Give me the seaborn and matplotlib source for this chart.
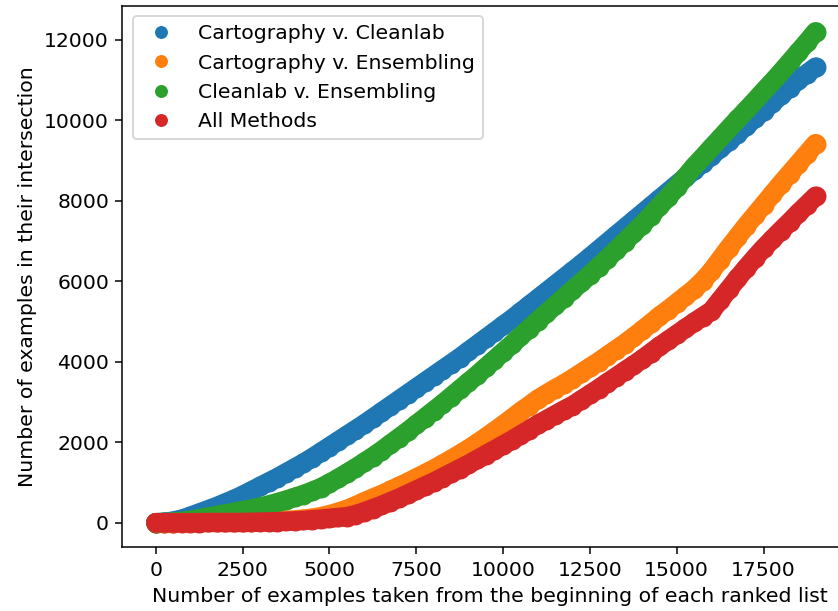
import numpy as np
import pandas as pd
import matplotlib
matplotlib.use('Agg')
import matplotlib.pyplot as plt
from matplotlib.lines import Line2D
import seaborn as sns

plt.rcParams['font.size'] = 10.7

# values, one point every 250 examples
x_taken = list(range(0, 19001, 250))

carto_cleanlab = [
    0, 10, 40, 90, 160, 240, 320, 400, 490, 580,
    680, 790, 900, 1010, 1120, 1240, 1360, 1480, 1610, 1750,
    1890, 2030, 2170, 2310, 2450, 2600, 2750, 2900, 3050, 3200,
    3350, 3500, 3650, 3800, 3950, 4100, 4260, 4420, 4580, 4740,
    4900, 5060, 5230, 5400, 5570, 5740, 5910, 6080, 6250, 6420,
    6600, 6780, 6960, 7140, 7320, 7500, 7680, 7860, 8040, 8220,
    8400, 8580, 8760, 8940, 9120, 9300, 9480, 9670, 9860, 10050,
    10240, 10430, 10620, 10810, 11000, 11160, 11320]

carto_ensembling = [
    0, 0, 0, 5, 5, 10, 10, 10, 15, 15,
    20, 25, 30, 35, 45, 55, 70, 90, 110, 150,
    200, 260, 330, 420, 520, 610, 700, 800, 900, 1000,
    1110, 1220, 1330, 1450, 1570, 1700, 1830, 1970, 2120, 2270,
    2430, 2590, 2760, 2910, 3070, 3200, 3330, 3450, 3580, 3720,
    3860, 4000, 4150, 4300, 4450, 4610, 4780, 4950, 5130, 5290,
    5460, 5630, 5800, 6010, 6250, 6540, 6830, 7100, 7380, 7640,
    7900, 8160, 8420, 8670, 8920, 9170, 9420]

cleanlab_ensembling = [
    0, 5, 15, 35, 60, 100, 140, 180, 220, 260,
    300, 340, 390, 440, 500, 560, 630, 700, 780, 870,
    980, 1100, 1230, 1360, 1500, 1640, 1790, 1950, 2110, 2270,
    2440, 2610, 2780, 2950, 3130, 3310, 3490, 3670, 3860, 4050,
    4240, 4430, 4630, 4820, 5020, 5210, 5400, 5590, 5780, 5970,
    6160, 6360, 6560, 6770, 6980, 7190, 7400, 7630, 7860, 8090,
    8330, 8590, 8850, 9080, 9320, 9550, 9790, 10020, 10250, 10480,
    10720, 10950, 11190, 11440, 11690, 11940, 12200]

all_methods = [
    0, 0, 0, 0, 0, 0, 5, 5, 5, 5,
    5, 10, 15, 20, 25, 35, 45, 55, 75, 90,
    110, 130, 150, 200, 270, 350, 430, 520, 610, 710,
    810, 910, 1010, 1120, 1230, 1340, 1450, 1570, 1690, 1810,
    1930, 2050, 2180, 2310, 2440, 2560, 2680, 2800, 2910, 3050,
    3190, 3330, 3480, 3620, 3770, 3910, 4060, 4220, 4380, 4530,
    4680, 4830, 4980, 5120, 5260, 5530, 5800, 6070, 6330, 6580,
    6820, 7040, 7260, 7470, 7690, 7900, 8110]

labels = ['Cartography v. Cleanlab', 'Cartography v. Ensembling',
          'Cleanlab v. Ensembling', 'All Methods']
series = [carto_cleanlab, carto_ensembling, cleanlab_ensembling, all_methods]
colors = sns.color_palette('tab10', 4)

fig = plt.figure(figsize=(838 / 137, 611 / 137), dpi=137)
ax = fig.add_axes([0.146, 0.104, 0.877, 0.886])

# one series at a time so later series sit on top, like the original
for lab, s, c in zip(labels, series, colors):
    d = pd.DataFrame({'n': x_taken, 'inter': s})
    sns.lineplot(data=d, x='n', y='inter', color=c, lw=10.2,
                 solid_capstyle='round', solid_joinstyle='round', ax=ax)
    sns.scatterplot(data=d, x='n', y='inter', color=c, s=110,
                    linewidth=0, ax=ax)

ax.set_xlim(-962, 20200)
ax.set_ylim(-616, 12837)
ax.set_xticks(range(0, 17501, 2500))
ax.set_xlabel('Number of examples taken from the beginning of each ranked list')
ax.set_ylabel('Number of examples in their intersection')

handles = [Line2D([], [], ls='', marker='o', ms=6.8, mec='none', mfc=c) for c in colors]
ax.legend(handles, labels, loc='upper left')

fig.savefig('out.png', dpi=137)
